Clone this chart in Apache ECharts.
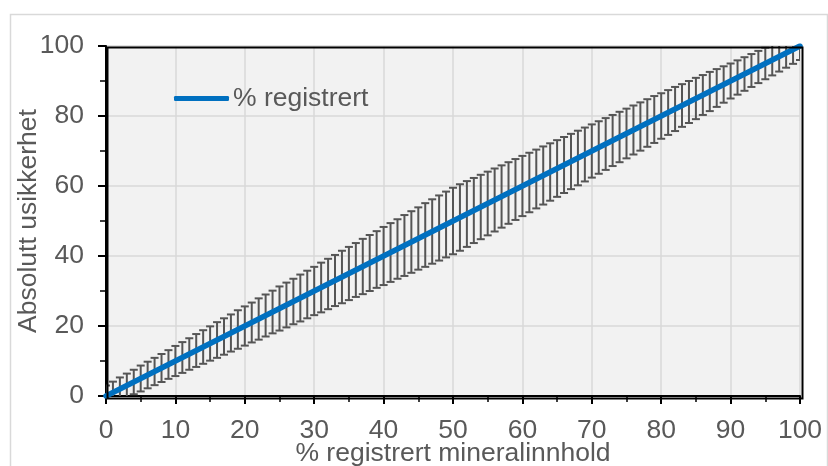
<!DOCTYPE html>
<html>
<head>
<meta charset="utf-8">
<script src="https://cdn.jsdelivr.net/npm/echarts@6/dist/echarts.min.js"></script>
<style>
html,body{margin:0;padding:0;background:#fff;}
#c{width:828px;height:466px;}
</style>
</head>
<body>
<div id="c"></div>
<script>
// x values (% registrert mineralinnhold)
var xValues = [0,1,2,3,4,5,6,7,8,9,10,11,12,13,14,15,16,17,18,19,20,21,22,23,24,25,26,27,28,29,30,31,32,33,34,35,36,37,38,39,40,41,42,43,44,45,46,47,48,49,50,51,52,53,54,55,56,57,58,59,60,61,62,63,64,65,66,67,68,69,70,71,72,73,74,75,76,77,78,79,80,81,82,83,84,85,86,87,88,89,90,91,92,93,94,95,96,97,98,99,100];
// line values (% registrert)
var registrert = [0,1,2,3,4,5,6,7,8,9,10,11,12,13,14,15,16,17,18,19,20,21,22,23,24,25,26,27,28,29,30,31,32,33,34,35,36,37,38,39,40,41,42,43,44,45,46,47,48,49,50,51,52,53,54,55,56,57,58,59,60,61,62,63,64,65,66,67,68,69,70,71,72,73,74,75,76,77,78,79,80,81,82,83,84,85,86,87,88,89,90,91,92,93,94,95,96,97,98,99,100];
// absolute uncertainty (± error bar half-length)
var usikkerhet = [
 3.0,3.1,3.3,3.4,3.5,3.7,3.8,3.9,4.0,4.1,4.3,
 4.4,4.5,4.7,4.8,4.9,5.1,5.2,5.3,5.5,5.6,
 5.7,5.9,6.0,6.1,6.3,6.4,6.5,6.7,6.8,6.9,
 7.1,7.2,7.3,7.5,7.6,7.7,7.9,8.0,8.1,8.3,
 8.4,8.5,8.7,8.8,8.9,9.1,9.2,9.3,9.4,9.5,
 9.5,9.4,9.3,9.2,9.1,9.0,8.9,8.8,8.7,8.6,
 8.5,8.4,8.3,8.2,8.1,8.0,7.9,7.8,7.7,7.6,
 7.5,7.4,7.3,7.2,7.1,7.0,6.9,6.8,6.7,6.5,
 6.4,6.3,6.1,6.0,5.9,5.7,5.6,5.4,5.2,5.0,
 4.9,4.8,4.7,4.6,4.5,4.4,4.3,4.2,4.1,4.0
];
var xTicks = [0,10,20,30,40,50,60,70,80,90,100];
var yTicks = [0,20,40,60,80,100];

var lineData = xValues.map(function(x,i){return [x, registrert[i]];});
var errData = xValues.map(function(x,i){return [x, registrert[i]-usikkerhet[i], registrert[i]+usikkerhet[i]];});

var font = 'Liberation Sans, Arial, sans-serif';
var txt = '#595959';
var fs = 26.5;

var chart = echarts.init(document.getElementById('c'), null, {renderer:'canvas'});
chart.setOption({
  animation:false,
  backgroundColor:'#fff',
  graphic:[
    {type:'rect', left:8, top:12, shape:{width:817, height:470}, style:{fill:null, stroke:'#d9d9d9', lineWidth:1.5}, z:-10},
    {type:'rect', left:105, top:45, shape:{width:695, height:351}, style:{fill:null, stroke:'#000', lineWidth:2}, z:100, silent:true}
  ],
  grid:{left:106, right:28, top:46, bottom:70, containLabel:false, outerBoundsMode:'none', show:true, backgroundColor:'#f2f2f2', borderColor:'#000', borderWidth:0},
  legend:{
    left:169, top:80, itemWidth:55, itemHeight:5, icon:'roundRect', itemGap:4,
    textStyle:{fontFamily:font, fontSize:fs, color:txt, padding:[0,0,0,-1]},
    data:['% registrert']
  },
  xAxis:{
    type:'value', min:xTicks[0], max:xTicks[xTicks.length-1], interval:10,
    name:'% registrert mineralinnhold', nameLocation:'middle', nameGap:44, nameMoveOverlap:false,
    nameTextStyle:{fontFamily:font, fontSize:fs, color:txt},
    axisLine:{show:true, onZero:false, lineStyle:{color:'#000', width:2}},
    axisTick:{show:true, length:8, lineStyle:{color:'#000', width:2}},
    minorTick:{show:true, splitNumber:2, length:6, lineStyle:{color:'#000', width:1.5}},
    axisLabel:{fontFamily:font, fontSize:fs, color:txt, margin:21},
    splitLine:{show:true, lineStyle:{color:'#d9d9d9', width:1.5}}
  },
  yAxis:{
    type:'value', min:yTicks[0], max:yTicks[yTicks.length-1], interval:20,
    name:'Absolutt usikkerhet', nameLocation:'middle', nameGap:64, nameMoveOverlap:false,
    nameTextStyle:{fontFamily:font, fontSize:fs, color:txt},
    axisLine:{show:true, onZero:false, lineStyle:{color:'#000', width:2}},
    axisTick:{show:true, length:8, lineStyle:{color:'#000', width:2}},
    minorTick:{show:true, splitNumber:2, length:6, lineStyle:{color:'#000', width:1.5}},
    axisLabel:{fontFamily:font, fontSize:fs, color:txt, margin:22},
    splitLine:{show:true, lineStyle:{color:'#d9d9d9', width:1.5}}
  },
  series:[
    {
      type:'custom', name:'usikkerhet', data:errData, clip:true, z:2,
      encode:{x:0, y:[1,2]},
      renderItem:function(params, api){
        var x = api.value(0);
        var lo = api.coord([x, api.value(1)]);
        var hi = api.coord([x, api.value(2)]);
        var hw = 4;
        var st = {stroke:'#555555', lineWidth:2, fill:null};
        return {type:'group', children:[
          {type:'line', shape:{x1:lo[0], y1:lo[1], x2:hi[0], y2:hi[1]}, style:st},
          {type:'line', shape:{x1:hi[0]-hw, y1:hi[1], x2:hi[0]+hw, y2:hi[1]}, style:st},
          {type:'line', shape:{x1:lo[0]-hw, y1:lo[1], x2:lo[0]+hw, y2:lo[1]}, style:st}
        ]};
      }
    },
    {
      type:'line', name:'% registrert', data:lineData, showSymbol:false, symbol:'none', z:3,
      lineStyle:{color:'#0070C0', width:5.5, cap:'round'},
      itemStyle:{color:'#0070C0'}
    }
  ]
});
</script>
</body>
</html>
